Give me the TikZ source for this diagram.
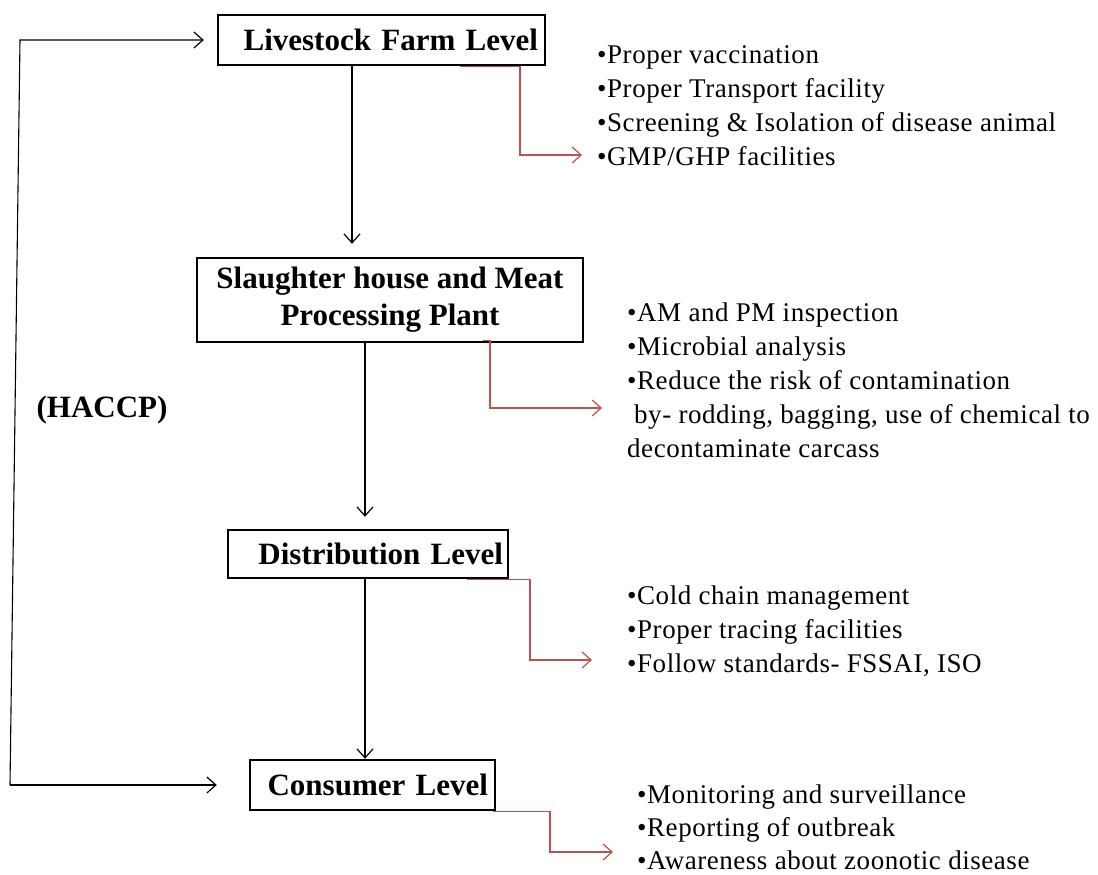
\documentclass[tikz,border=0pt]{standalone}
\usepackage{fontspec}
\setmainfont{Liberation Serif}
\newfontfamily\listfont{Liberation Serif}[LetterSpace=2]
\usetikzlibrary{arrows.meta}
\definecolor{redline}{RGB}{192,80,77}
\begin{document}
\begin{tikzpicture}[x=1pt,y=-1pt,
  box/.style={draw, line width=2.4pt, inner sep=0pt, font=\fontsize{31}{37}\selectfont\bfseries},
  arr/.style={-{Straight Barb[length=9pt,width=16pt,line width=1.2pt]}, line width=1.1pt},
  redarr/.style={arr, draw=redline},
  list/.style={anchor=north west, align=left, inner sep=0pt, font=\listfont\fontsize{27}{34}\selectfont}]
\useasboundingbox (0,0) rectangle (1098,875);
\fill[white] (0,0) rectangle (1098,875);

% level boxes
\node[box, minimum width=327pt, minimum height=50pt, text width=313pt, align=right] (farm) at (381.5,40) {Livestock Farm Level};
\node[box, minimum width=386pt, minimum height=84pt, align=center] (plant) at (390,300) {Slaughter house and Meat\\Processing Plant};
\node[box, minimum width=280pt, minimum height=48pt, text width=270pt, align=right] (dist) at (368,554) {Distribution Level};
\node[box, minimum width=245pt, minimum height=50pt, text width=231pt, align=right] (cons) at (372.5,785) {Consumer Level};

\node[inner sep=0pt, font=\fontsize{31}{37}\selectfont\bfseries] (haccp) at (102,410) {(HACCP)};

% bullet lists
\node[list] (l1) at (597,45.5) {•Proper vaccination\\•Proper Transport facility\\•Screening \& Isolation of disease animal\\•GMP/GHP facilities};
\node[list] (l2) at (627,302.5) {•AM and PM inspection\\•Microbial analysis\\•Reduce the risk of contamination\\\hspace*{7pt}by- rodding, bagging, use of chemical to\\decontaminate carcass};
\node[list] (l3) at (627,585.5) {•Cold chain management\\•Proper tracing facilities\\•Follow standards- FSSAI, ISO};
\node[list, font=\listfont\fontsize{27}{33}\selectfont] (l4) at (637,784.5) {•Monitoring and surveillance\\•Reporting of outbreak\\•Awareness about zoonotic disease};

% helper coordinates
\coordinate (c1) at (352,0);
\coordinate (c2) at (365,0);
\coordinate (fbT) at (20,40);
\coordinate (fbB) at (10,785);
\coordinate (t1) at (582,155);
\coordinate (t2) at (602,408);
\coordinate (t3) at (592,660);
\coordinate (t4) at (613,852);

% main flow
\draw[arr, shorten >=13pt] (farm.south -| c1) -- (plant.north -| c1);
\draw[arr, shorten >=12pt] (plant.south -| c2) -- (dist.north -| c2);
\draw[arr] (dist.south -| c2) -- (cons.north -| c2);

% feedback (HACCP)
\draw[arr, shorten >=13pt] (fbB) -- (fbT) -- (farm.west);
\draw[arr, shorten >=32pt] (fbB) -- (cons.west);

% red connectors
\draw[redarr] ([xshift=78.5pt]farm.south) -- ++(60,0) |- (t1);
\draw[redarr] ([xshift=93pt,yshift=3pt]plant.south) -- ++(7,0) |- (t2);
\draw[redarr] ([xshift=99pt]dist.south) -- ++(63,0) |- (t3);
\draw[redarr] ([xshift=120.5pt]cons.south) -- ++(57,0) |- (t4);
\end{tikzpicture}
\end{document}
